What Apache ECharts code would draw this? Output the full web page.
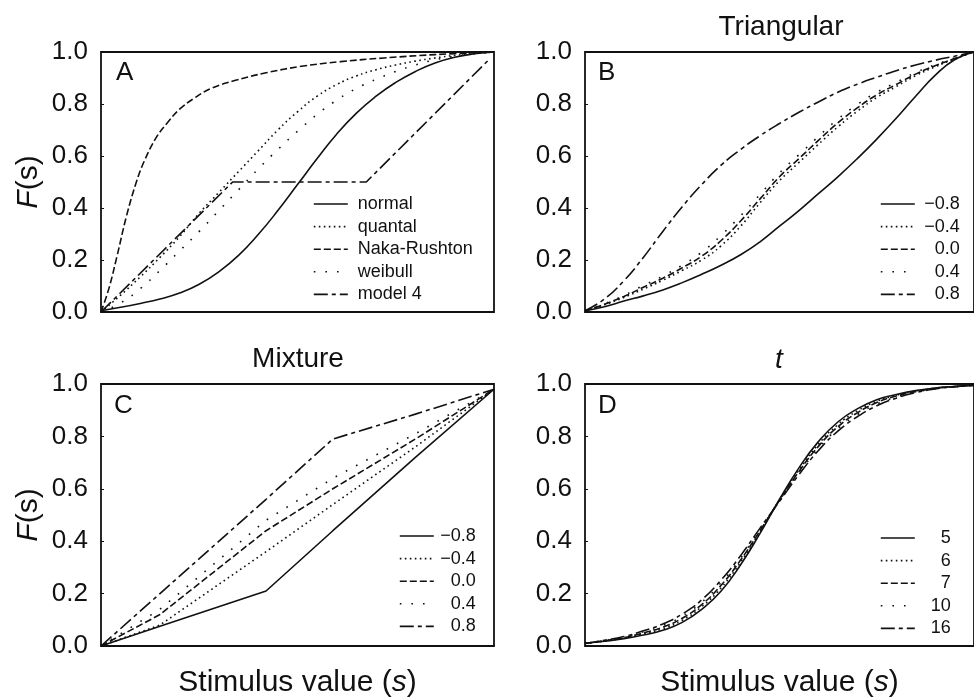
<!DOCTYPE html>
<html>
<head>
<meta charset="utf-8">
<script src="https://cdn.jsdelivr.net/npm/echarts@6/dist/echarts.min.js"></script>
<style>
  html, body { margin: 0; padding: 0; background: #fff; }
  #main { width: 974px; height: 699px; }
</style>
</head>
<body>
<div id="main"></div>
<script>
// shared x grid (stimulus value, unlabelled axis, 0..1)
var xGrid = [0, 0.05, 0.1, 0.15, 0.2, 0.25, 0.3, 0.35, 0.4, 0.45, 0.5,
             0.55, 0.6, 0.65, 0.7, 0.75, 0.8, 0.85, 0.9, 0.95, 1];
var yTicks = [0, 0.2, 0.4, 0.6, 0.8, 1.0];

// Panel A
var namesA = ['normal', 'quantal', 'Naka-Rushton', 'weibull', 'model 4'];
var normalA  = [0.005, 0.018, 0.033, 0.05, 0.073, 0.107, 0.155, 0.218, 0.298, 0.39, 0.49,
                0.59, 0.685, 0.765, 0.83, 0.883, 0.925, 0.958, 0.98, 0.993, 1.0];
var quantalA = [0, 0.065, 0.135, 0.21, 0.29, 0.38, 0.46, 0.54, 0.62, 0.70, 0.77,
                0.83, 0.875, 0.908, 0.932, 0.95, 0.965, 0.977, 0.987, 0.994, 1.0];
var weibullA = [0, 0.035, 0.09, 0.16, 0.235, 0.31, 0.39, 0.47, 0.55, 0.625, 0.695,
                0.76, 0.815, 0.86, 0.895, 0.925, 0.95, 0.97, 0.983, 0.993, 1.0];
var nakaX = [0, 0.02, 0.04, 0.065, 0.09, 0.11, 0.14, 0.17, 0.2, 0.235, 0.28, 0.34, 0.42, 0.51, 0.61, 0.72, 0.85, 1];
var nakaA = [0, 0.09, 0.21, 0.37, 0.50, 0.58, 0.67, 0.73, 0.78, 0.82, 0.86, 0.89, 0.92, 0.945, 0.963, 0.977, 0.99, 1.0];
var model4X = [0, 0.335, 0.675, 0.99];
var model4A = [0, 0.5, 0.5, 0.975];

// Panel B (Triangular)
var namesBC = ['\u22120.8', '\u22120.4', '0.0', '0.4', '0.8'];
var triM08 = [0.005, 0.02, 0.042, 0.062, 0.085, 0.113, 0.145, 0.18, 0.22, 0.27, 0.33,
              0.39, 0.455, 0.52, 0.59, 0.665, 0.745, 0.83, 0.91, 0.97, 1.0];
var triM04 = [0.005, 0.028, 0.056, 0.088, 0.122, 0.16, 0.2, 0.255, 0.33, 0.42, 0.505,
              0.575, 0.645, 0.712, 0.772, 0.825, 0.867, 0.909, 0.943, 0.973, 1.0];
var tri00  = [0.005, 0.03, 0.06, 0.095, 0.13, 0.17, 0.215, 0.275, 0.35, 0.435, 0.52,
              0.59, 0.66, 0.727, 0.785, 0.835, 0.875, 0.915, 0.947, 0.975, 1.0];
var tri04  = [0.005, 0.032, 0.064, 0.102, 0.138, 0.18, 0.23, 0.295, 0.37, 0.452, 0.535,
              0.605, 0.675, 0.742, 0.798, 0.845, 0.883, 0.921, 0.951, 0.977, 1.0];
var tri08  = [0.005, 0.05, 0.12, 0.21, 0.31, 0.405, 0.49, 0.565, 0.625, 0.678, 0.725,
              0.768, 0.808, 0.845, 0.876, 0.903, 0.928, 0.95, 0.968, 0.984, 1.0];

// Panel C (Mixture)
var mixX   = [0, 0.15, 0.42, 0.59, 0.8, 1];
var mixM08 = [0, 0.075, 0.21, 0.44, 0.72, 0.98];
var mixM04 = [0, 0.08, 0.36, 0.54, 0.76, 0.98];
var mix00  = [0, 0.12, 0.44, 0.60, 0.79, 0.98];
var mix04  = [0, 0.14, 0.48, 0.64, 0.81, 0.98];
var mix08  = [0, 0.20, 0.56, 0.79, 0.885, 0.98];

// Panel D (t)
var namesD = ['5', '6', '7', '10', '16'];
var t5  = [0.010, 0.018, 0.028, 0.042, 0.060, 0.090, 0.140, 0.210, 0.310, 0.430, 0.560,
           0.680, 0.780, 0.855, 0.905, 0.940, 0.960, 0.975, 0.985, 0.990, 0.995];
var t6  = [0.010, 0.019, 0.030, 0.046, 0.066, 0.098, 0.150, 0.222, 0.320, 0.436, 0.558,
           0.672, 0.770, 0.845, 0.897, 0.934, 0.957, 0.973, 0.984, 0.990, 0.995];
var t7  = [0.010, 0.020, 0.032, 0.050, 0.072, 0.106, 0.158, 0.232, 0.328, 0.440, 0.556,
           0.666, 0.762, 0.837, 0.890, 0.929, 0.954, 0.971, 0.983, 0.990, 0.995];
var t10 = [0.010, 0.021, 0.034, 0.054, 0.078, 0.114, 0.167, 0.242, 0.336, 0.445, 0.554,
           0.660, 0.754, 0.829, 0.883, 0.923, 0.950, 0.969, 0.982, 0.990, 0.995];
var t16 = [0.010, 0.022, 0.036, 0.058, 0.084, 0.122, 0.176, 0.252, 0.345, 0.450, 0.552,
           0.654, 0.746, 0.820, 0.875, 0.917, 0.946, 0.967, 0.981, 0.990, 0.995];

var FONT = '"Liberation Sans", Arial, Helvetica, sans-serif';
var INK = '#111';
var LW = 1.6;
// five line styles used in every panel
var dashes = ['solid', [1.6, 3.4], [7, 3], [1.6, 10], [14, 4, 4, 4]];

function pairs(xs, ys) {
    return xs.map(function (x, i) { return [x, ys[i]]; });
}

function lineSeries(name, idx, xs, ys, styleIdx, smooth) {
    return {
        name: name,
        type: 'line',
        xAxisIndex: idx,
        yAxisIndex: idx,
        data: pairs(xs, ys),
        symbol: 'none',
        smooth: smooth,
        animation: false,
        itemStyle: { color: INK },
        lineStyle: { color: INK, width: LW, type: dashes[styleIdx] }
    };
}

var chartDom = document.getElementById('main');
var myChart = echarts.init(chartDom);

var grids = [
    { left: 101, top: 52, width: 393, height: 260 },
    { left: 585, top: 52, width: 393, height: 260 },
    { left: 101, top: 384, width: 393, height: 263 },
    { left: 585, top: 384, width: 393, height: 263 }
].map(function (g) {
    g.show = true;
    g.borderColor = INK;
    g.borderWidth = 1.8;
    g.backgroundColor = 'transparent';
    return g;
});

var xAxes = [0, 1, 2, 3].map(function (i) {
    var ax = {
        type: 'value', gridIndex: i, min: 0, max: 1,
        axisLine: { show: false }, axisTick: { show: false },
        axisLabel: { show: false }, splitLine: { show: false }
    };
    if (i >= 2) {
        ax.name = '{n|Stimulus value (}{i|s}{n|)}';
        ax.nameLocation = 'middle';
        ax.nameGap = 22;
        ax.nameTextStyle = {
            rich: {
                n: { fontSize: 30, fontFamily: FONT, color: INK },
                i: { fontSize: 30, fontFamily: FONT, color: INK, fontStyle: 'italic' }
            }
        };
    }
    return ax;
});

var yAxes = [0, 1, 2, 3].map(function (i) {
    var ax = {
        type: 'value', gridIndex: i, min: 0, max: 1, interval: 0.2,
        axisLine: { show: false },
        axisTick: { show: true, inside: true, length: 3, lineStyle: { color: INK } },
        splitLine: { show: false },
        axisLabel: {
            fontSize: 26, fontFamily: FONT, color: INK, margin: 13,
            formatter: function (v) { return v.toFixed(1); }
        }
    };
    if (i === 0 || i === 2) {
        ax.name = '{i|F}{n|(s)}';
        ax.nameLocation = 'middle';
        ax.nameRotate = 90;
        ax.nameGap = 57;
        ax.nameTextStyle = {
            rich: {
                n: { fontSize: 30, fontFamily: FONT, color: INK },
                i: { fontSize: 30, fontFamily: FONT, color: INK, fontStyle: 'italic' }
            }
        };
    }
    return ax;
});

var series = [
    lineSeries(namesA[0], 0, xGrid, normalA, 0, 0.5),
    lineSeries(namesA[1], 0, xGrid, quantalA, 1, 0.5),
    lineSeries(namesA[2], 0, nakaX, nakaA, 2, 0.4),
    lineSeries(namesA[3], 0, xGrid, weibullA, 3, 0.5),
    lineSeries(namesA[4], 0, model4X, model4A, 4, false),

    lineSeries(namesBC[0], 1, xGrid, triM08, 0, 0.5),
    lineSeries(namesBC[1], 1, xGrid, triM04, 1, 0.5),
    lineSeries(namesBC[2], 1, xGrid, tri00, 2, 0.5),
    lineSeries(namesBC[3], 1, xGrid, tri04, 3, 0.5),
    lineSeries(namesBC[4], 1, xGrid, tri08, 4, 0.5),

    lineSeries(namesBC[0], 2, mixX, mixM08, 0, false),
    lineSeries(namesBC[1], 2, mixX, mixM04, 1, false),
    lineSeries(namesBC[2], 2, mixX, mix00, 2, false),
    lineSeries(namesBC[3], 2, mixX, mix04, 3, false),
    lineSeries(namesBC[4], 2, mixX, mix08, 4, false),

    lineSeries(namesD[0], 3, xGrid, t5, 0, 0.5),
    lineSeries(namesD[1], 3, xGrid, t6, 1, 0.5),
    lineSeries(namesD[2], 3, xGrid, t7, 2, 0.5),
    lineSeries(namesD[3], 3, xGrid, t10, 3, 0.5),
    lineSeries(namesD[4], 3, xGrid, t16, 4, 0.5)
];

// legend box has 5px padding, rows are 18px tall + gap
function makeLegend(names, left, top, textWidth, alignRight) {
    return {
        data: names,
        orient: 'vertical',
        left: left,
        top: top,
        itemWidth: 34,
        itemHeight: 14,
        itemGap: 4.6,
        selectedMode: false,
        itemStyle: { opacity: 0 },
        lineStyle: { width: LW, color: INK },
        formatter: function (name) { return '{r|' + name + '}'; },
        textStyle: {
            rich: {
                r: {
                    fontSize: 18, fontFamily: FONT, color: INK,
                    width: textWidth, align: alignRight ? 'right' : 'left',
                    padding: alignRight ? 0 : [0, 0, 0, 5]
                }
            }
        }
    };
}

function txt(x, y, text, size, italic, align) {
    return {
        type: 'text', x: x, y: y, silent: true,
        style: {
            text: text, fill: INK,
            font: (italic ? 'italic ' : '') + size + 'px ' + FONT,
            textAlign: align || 'left', textVerticalAlign: 'middle'
        }
    };
}

var option = {
    backgroundColor: '#fff',
    animation: false,
    grid: grids,
    xAxis: xAxes,
    yAxis: yAxes,
    legend: [
        makeLegend(namesA, 308, 190, null, false),
        makeLegend(namesBC, 875, 190, 40, true),
        makeLegend(namesBC, 394, 522, 37, true),
        makeLegend(namesD, 875, 524, 31, true)
    ],
    graphic: [
        txt(116, 73, 'A', 26),
        txt(598, 73, 'B', 26),
        txt(114, 406, 'C', 26),
        txt(598, 406, 'D', 26),
        txt(781, 27, 'Triangular', 28, false, 'center'),
        txt(298, 359, 'Mixture', 28, false, 'center'),
        txt(779, 360, 't', 28, true, 'center')
    ],
    series: series
};

myChart.setOption(option);
</script>
</body>
</html>
